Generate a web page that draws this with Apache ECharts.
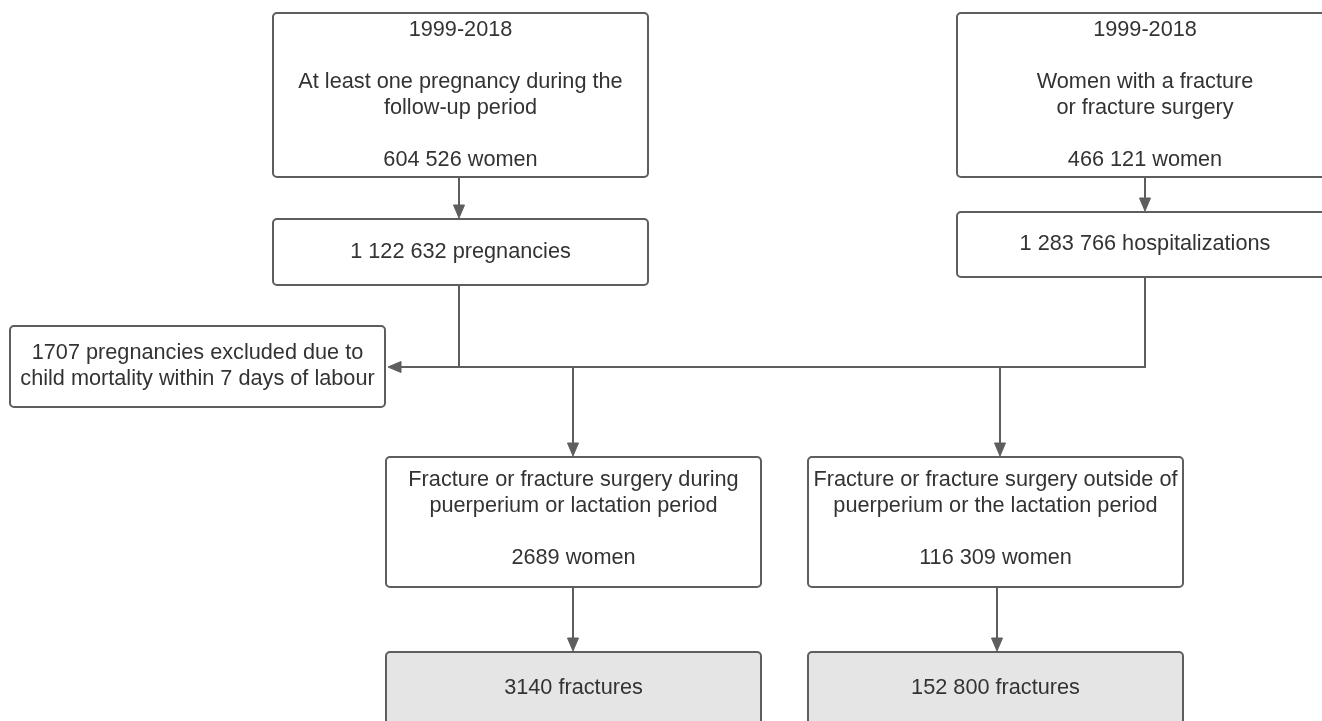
<!DOCTYPE html>
<html>
<head>
<meta charset="utf-8">
<script src="https://cdn.jsdelivr.net/npm/echarts@6/dist/echarts.min.js"></script>
<style>
html,body{margin:0;padding:0;background:#fff;}
#chart{width:1322px;height:721px;}
</style>
</head>
<body>
<div id="chart"></div>
<script>
// ---- data ----
const periodLabel = '1999-2018';
const cohortLabels = ['At least one pregnancy during the\nfollow-up period', 'Women with a fracture\nor fracture surgery'];
const cohortWomen = [604526, 466121];
const eventCounts = [1122632, 1283766];
const eventUnits = ['pregnancies', 'hospitalizations'];
const excludedPregnancies = 1707;
const excludedReason = 'child mortality within 7 days of labour';
const groupLabels = ['Fracture or fracture surgery during\npuerperium or lactation period', 'Fracture or fracture surgery outside of\npuerperium or the lactation period'];
const groupWomen = [2689, 116309];
const groupFractures = [3140, 152800];

function fmt(n) {
  if (n < 10000) return String(n);
  return String(n).replace(/\B(?=(\d{3})+(?!\d))/g, ' ');
}

const boxTexts = [
  periodLabel + '\n\n' + cohortLabels[0] + '\n\n' + fmt(cohortWomen[0]) + ' women',
  fmt(eventCounts[0]) + ' ' + eventUnits[0],
  periodLabel + '\n\n' + cohortLabels[1] + '\n\n' + fmt(cohortWomen[1]) + ' women',
  fmt(eventCounts[1]) + ' ' + eventUnits[1],
  fmt(excludedPregnancies) + ' pregnancies excluded due to\n' + excludedReason,
  groupLabels[0] + '\n\n' + fmt(groupWomen[0]) + ' women',
  groupLabels[1] + '\n\n' + fmt(groupWomen[1]) + ' women',
  fmt(groupFractures[0]) + ' fractures',
  fmt(groupFractures[1]) + ' fractures'
];

// ---- layout (positions in axis units) ----
const boxLayout = [
  [273, 13, 648, 177],
  [273, 219, 648, 285],
  [957, 13, 1333, 177],
  [957, 212, 1333, 277],
  [10, 326, 385, 407],
  [386, 457, 761, 587],
  [808, 457, 1183, 587],
  [386, 652, 761, 724],
  [808, 652, 1183, 724]
];
const textShift = [0, 0, 0, 0, 0, -3, -3, 0, 0];
const shadedBoxes = [7, 8];

const connectorLayout = [
  {pts: [[459, 177], [459, 218]], arrow: true},
  {pts: [[1145, 177], [1145, 211]], arrow: true},
  {pts: [[459, 285], [459, 367], [388, 367]], arrow: true},
  {pts: [[1145, 277], [1145, 367], [459, 367]], arrow: false},
  {pts: [[573, 367], [573, 456]], arrow: true},
  {pts: [[1000, 367], [1000, 456]], arrow: true},
  {pts: [[573, 587], [573, 651]], arrow: true},
  {pts: [[997, 587], [997, 651]], arrow: true}
];

const LINE = '#5e5e5e';
const FONT = '21.7px "Liberation Sans", Arial, sans-serif';

const chart = echarts.init(document.getElementById('chart'), null, {renderer: 'canvas'});

chart.setOption({
  backgroundColor: '#ffffff',
  animation: false,
  grid: {left: 0, right: 0, top: 0, bottom: 0, containLabel: false},
  xAxis: {type: 'value', min: 0, max: 1322, show: false},
  yAxis: {type: 'value', min: 0, max: 721, inverse: true, show: false},
  series: [
    {
      type: 'custom',
      coordinateSystem: 'cartesian2d',
      clip: false,
      data: connectorLayout.map((c, i) => [c.pts[0][0], c.pts[0][1], i]),
      renderItem: function (params, api) {
        const c = connectorLayout[params.dataIndex];
        const pts = c.pts.map(p => api.coord(p));
        const children = [];
        let linePts = pts.slice();
        if (c.arrow) {
          const end = pts[pts.length - 1];
          const prev = pts[pts.length - 2];
          const dx = end[0] - prev[0], dy = end[1] - prev[1];
          const len = Math.sqrt(dx * dx + dy * dy);
          const ux = dx / len, uy = dy / len;
          const L = 13, W = 5.5;
          const base = [end[0] - ux * L, end[1] - uy * L];
          linePts[linePts.length - 1] = [base[0] + ux * 2, base[1] + uy * 2];
          children.push({
            type: 'polygon',
            shape: {points: [end, [base[0] - uy * W, base[1] + ux * W], [base[0] + uy * W, base[1] - ux * W]]},
            style: {fill: LINE, stroke: LINE, lineWidth: 1}
          });
        }
        children.unshift({
          type: 'polyline',
          shape: {points: linePts},
          style: {stroke: LINE, lineWidth: 2, fill: null}
        });
        return {type: 'group', children: children};
      }
    },
    {
      type: 'custom',
      coordinateSystem: 'cartesian2d',
      clip: false,
      data: boxLayout.map((b, i) => [b[0], b[1], i]),
      renderItem: function (params, api) {
        const i = params.dataIndex;
        const b = boxLayout[i];
        const p0 = api.coord([b[0], b[1]]);
        const p1 = api.coord([b[2], b[3]]);
        const x = p0[0], y = p0[1], w = p1[0] - p0[0], h = p1[1] - p0[1];
        return {
          type: 'group',
          children: [
            {
              type: 'rect',
              shape: {x: x, y: y, width: w, height: h, r: 4},
              style: {fill: shadedBoxes.indexOf(i) >= 0 ? '#e5e5e5' : '#ffffff', stroke: LINE, lineWidth: 2}
            },
            {
              type: 'text',
              style: {
                text: boxTexts[i],
                x: x + w / 2,
                y: y + h / 2 + textShift[i],
                align: 'center',
                verticalAlign: 'middle',
                font: FONT,
                lineHeight: 26,
                fill: '#333333'
              }
            }
          ]
        };
      }
    }
  ]
});
</script>
</body>
</html>
